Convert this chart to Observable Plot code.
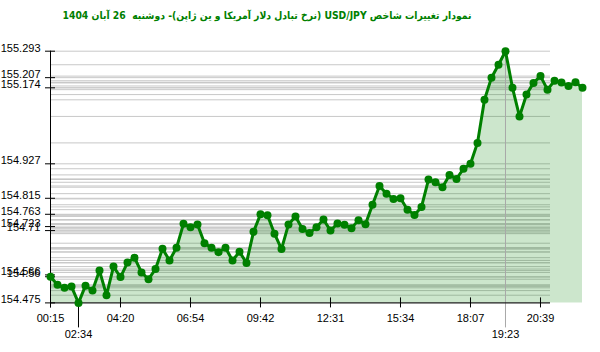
<!DOCTYPE html>
<html>
<head>
<meta charset="utf-8">
<script src="https://cdn.jsdelivr.net/npm/d3@7"></script>
<script src="https://cdn.jsdelivr.net/npm/@observablehq/plot@0.6"></script>
<style>
  html, body { margin: 0; padding: 0; background: #fff; }
  #title { width: 534px; height: 30px; line-height: 30px; text-align: center; direction: rtl;
           font-family: "DejaVu Sans Condensed", "DejaVu Sans", sans-serif; font-stretch: condensed; font-weight: bold; font-size: 10.3px; color: #008000; white-space: nowrap; }
</style>
</head>
<body>
<div id="title">نمودار تغییرات شاخص USD/JPY (نرخ تبادل دلار آمریکا و ین ژاپن)- دوشنبه&nbsp; 26 آبان 1404</div>
<div id="chart"></div>
<script>
// USD/JPY values, one per sample (evenly spaced in the chart)
const usdJpy = [
  154.56, 154.534, 154.524, 154.528, 154.475, 154.531, 154.515, 154.580, 154.500, 154.593,
  154.559, 154.606, 154.622, 154.574, 154.552, 154.585, 154.651, 154.613, 154.654, 154.732,
  154.721, 154.730, 154.669, 154.654, 154.640, 154.654, 154.613, 154.641, 154.605, 154.706,
  154.763, 154.760, 154.700, 154.650, 154.730, 154.756, 154.715, 154.702, 154.721, 154.746,
  154.71, 154.733, 154.729, 154.718, 154.744, 154.731, 154.794, 154.855, 154.830, 154.813,
  154.815, 154.778, 154.761, 154.787, 154.876, 154.867, 154.851, 154.891, 154.878, 154.911,
  154.927, 154.995, 155.135, 155.207, 155.249, 155.293, 155.174, 155.081, 155.152, 155.190,
  155.212, 155.168, 155.197, 155.191, 155.180, 155.192, 155.174
];
// x-axis tick positions (sample index) and labels
const xTickIndex = [0, 10, 20, 30, 40, 50, 60, 70];
const xTickLabels = ["00:15", "04:20", "06:54", "09:42", "12:31", "15:34", "18:07", "20:39"];
const minTimeLabel = "02:34";
const maxTimeLabel = "19:23";
// y-axis tick labels
const yTickValues = [155.293, 155.207, 155.174, 154.927, 154.815, 154.763, 154.723, 154.71, 154.566, 154.56, 154.475];

const data = usdJpy.map((v, i) => ({i, v}));
const yMin = d3.min(usdJpy), yMax = d3.max(usdJpy);
const minIdx = usdJpy.indexOf(yMin), maxIdx = usdJpy.indexOf(yMax);
const visibleSteps = 71.43;

const chart = Plot.plot({
  width: 600,
  height: 322,
  marginLeft: 50,
  marginRight: 50,
  marginTop: 20.7,
  marginBottom: 49.6,
  x: {domain: [0, visibleSteps], axis: null},
  y: {domain: [yMin, yMax], axis: null},
  style: {fontFamily: "'Liberation Sans', Arial, sans-serif", fontSize: "11px", background: "#fff", overflow: "visible"},
  marks: [
    // gridlines at every value
    Plot.ruleY(usdJpy, {stroke: "#c8c8c8", strokeWidth: 1}),
    // area
    Plot.areaY(data, {x: "i", y1: () => yMin, y2: "v", fill: "#008000", fillOpacity: 0.2}),
    // max time marker line
    Plot.ruleX([maxIdx], {x: d => d, y1: () => yMax, y2: () => yMin, insetBottom: -25, stroke: "#a8a8a8", strokeWidth: 1}),
    // min time marker line
    Plot.ruleX([minIdx], {x: d => d, y1: () => yMin, y2: () => yMin, insetBottom: -25, stroke: "#000", strokeWidth: 1}),
    // axes lines
    Plot.ruleY([yMin], {stroke: "#000", strokeWidth: 1}),
    Plot.ruleX([0], {y1: () => yMax, y2: () => yMin, insetBottom: -5, stroke: "#000", strokeWidth: 1}),
    // y ticks
    Plot.ruleY(yTickValues, {y: d => d, x1: () => 0, x2: () => 0, insetLeft: -5, insetRight: -5, stroke: "#000"}),
    Plot.text(yTickValues, {x: () => 0, y: d => d, text: d => String(d), textAnchor: "end", dx: -10, dy: -3, fill: "#000"}),
    // x ticks
    Plot.ruleX(xTickIndex, {x: d => d, y1: () => yMin, y2: () => yMin, insetTop: -5, insetBottom: -5, stroke: "#000"}),
    Plot.text(xTickIndex, {x: d => d, y: () => yMin, text: (d, k) => xTickLabels[k], dy: 16, fill: "#000"}),
    Plot.text([minIdx, maxIdx], {x: d => d, y: () => yMin, text: (d, k) => [minTimeLabel, maxTimeLabel][k], dy: 32, fill: "#000"}),
    // line and points
    Plot.line(data, {x: "i", y: "v", stroke: "#008000", strokeWidth: 3}),
    Plot.dot(data, {x: "i", y: "v", r: 4, fill: "#008000", stroke: "none"})
  ]
});
document.getElementById("chart").appendChild(chart);
</script>
</body>
</html>
